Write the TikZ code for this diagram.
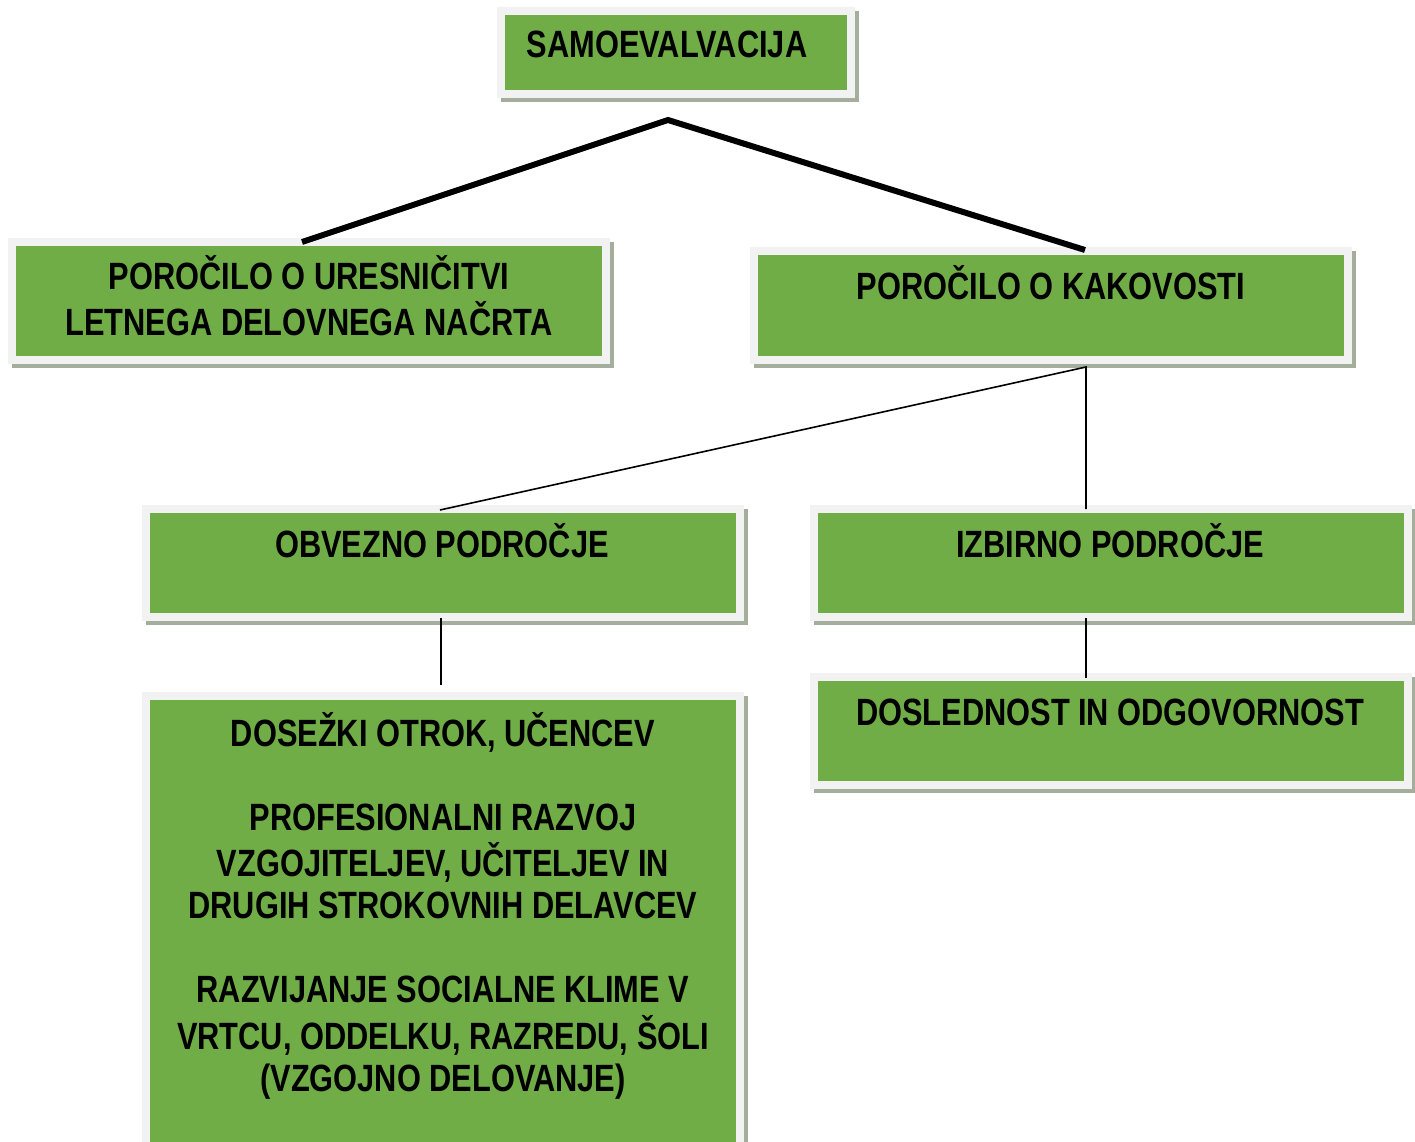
\documentclass[tikz,border=0pt]{standalone}
\usepackage{fontspec}
\setmainfont{Liberation Sans}[FakeStretch=0.81]
\definecolor{gfill}{HTML}{70AD47}
\definecolor{framec}{HTML}{F2F2F2}
\definecolor{shadowc}{HTML}{A3AE9C}
\newcommand\gbox[5]{%
  \fill[shadowc] (#2-4,#3-4) rectangle (#4+12,#5+12);
  \fill[framec] (#2-8,#3-8) rectangle (#4+8,#5+8);
  \node[greenbox, minimum width={#4-#2}, minimum height={#5-#3}, anchor=north west] (#1) at (#2,#3) {};
}
\tikzset{
  greenbox/.style={rectangle, fill=gfill, inner sep=0pt, outer sep=0pt},
  lbl/.style={inner sep=0pt, anchor=base, font=\bfseries\fontsize{38}{42}\selectfont, text=black},
  thickline/.style={line width=6pt, black},
  thinline/.style={line width=1.6pt, black},
}
\begin{document}
\begin{tikzpicture}[x=1pt, y=-1pt]
\useasboundingbox (0,0) rectangle (1415,1142);
\clip (0,0) rectangle (1415,1142);
\fill[white] (0,0) rectangle (1415,1142);

\gbox{samo}{505}{15}{847}{90}
\gbox{letno}{16}{246}{602}{356}
\gbox{kakov}{758}{255}{1344}{356}
\gbox{obvez}{150}{513}{736}{613}
\gbox{izbir}{818}{513}{1404}{613}
\gbox{dosl}{818}{681}{1404}{781}
\gbox{dosez}{150}{700}{736}{1160}

\node[lbl] (tsamo) at (667,58) {SAMOEVALVACIJA};
\node[lbl] (tletno) at (309,289) {\begin{tabular}[t]{@{}c@{}}POROČILO O URESNIČITVI\\LETNEGA DELOVNEGA NAČRTA\end{tabular}};
\node[lbl] (tkakov) at (1051,299) {POROČILO O KAKOVOSTI};
\node[lbl] (tobvez) at (442,557) {OBVEZNO PODROČJE};
\node[lbl] (tizbir) at (1110,557) {IZBIRNO PODROČJE};
\node[lbl] (tdosl) at (1110,725) {DOSLEDNOST IN ODGOVORNOST};
\node[lbl] (tdosez) at (443,746) {\begin{tabular}[t]{@{}c@{}}DOSEŽKI OTROK, UČENCEV\\ \\PROFESIONALNI RAZVOJ\\VZGOJITELJEV, UČITELJEV IN\\DRUGIH STROKOVNIH DELAVCEV\\ \\RAZVIJANJE SOCIALNE KLIME V\\VRTCU, ODDELKU, RAZREDU, ŠOLI\\(VZGOJNO DELOVANJE)\end{tabular}};

\coordinate (apex) at (668,120);
\coordinate (letnotop) at (302,242);
\coordinate (kakovtop) at (1085,250);
\coordinate (kakovbot) at (1086,367);
\coordinate (obveztop) at (440,510);
\coordinate (izbirtop) at (1086,509);
\coordinate (obvezbot) at (441,618);
\coordinate (dosezbot) at (441,685);
\coordinate (izbirbot) at (1086,618);
\coordinate (dosltop) at (1086,678);

\draw[thickline] (letnotop) -- (apex) -- (kakovtop);
\draw[thinline] (obveztop) -- (kakovbot) -- (izbirtop);
\draw[thinline] (obvezbot) -- (dosezbot);
\draw[thinline] (izbirbot) -- (dosltop);
\end{tikzpicture}
\end{document}
